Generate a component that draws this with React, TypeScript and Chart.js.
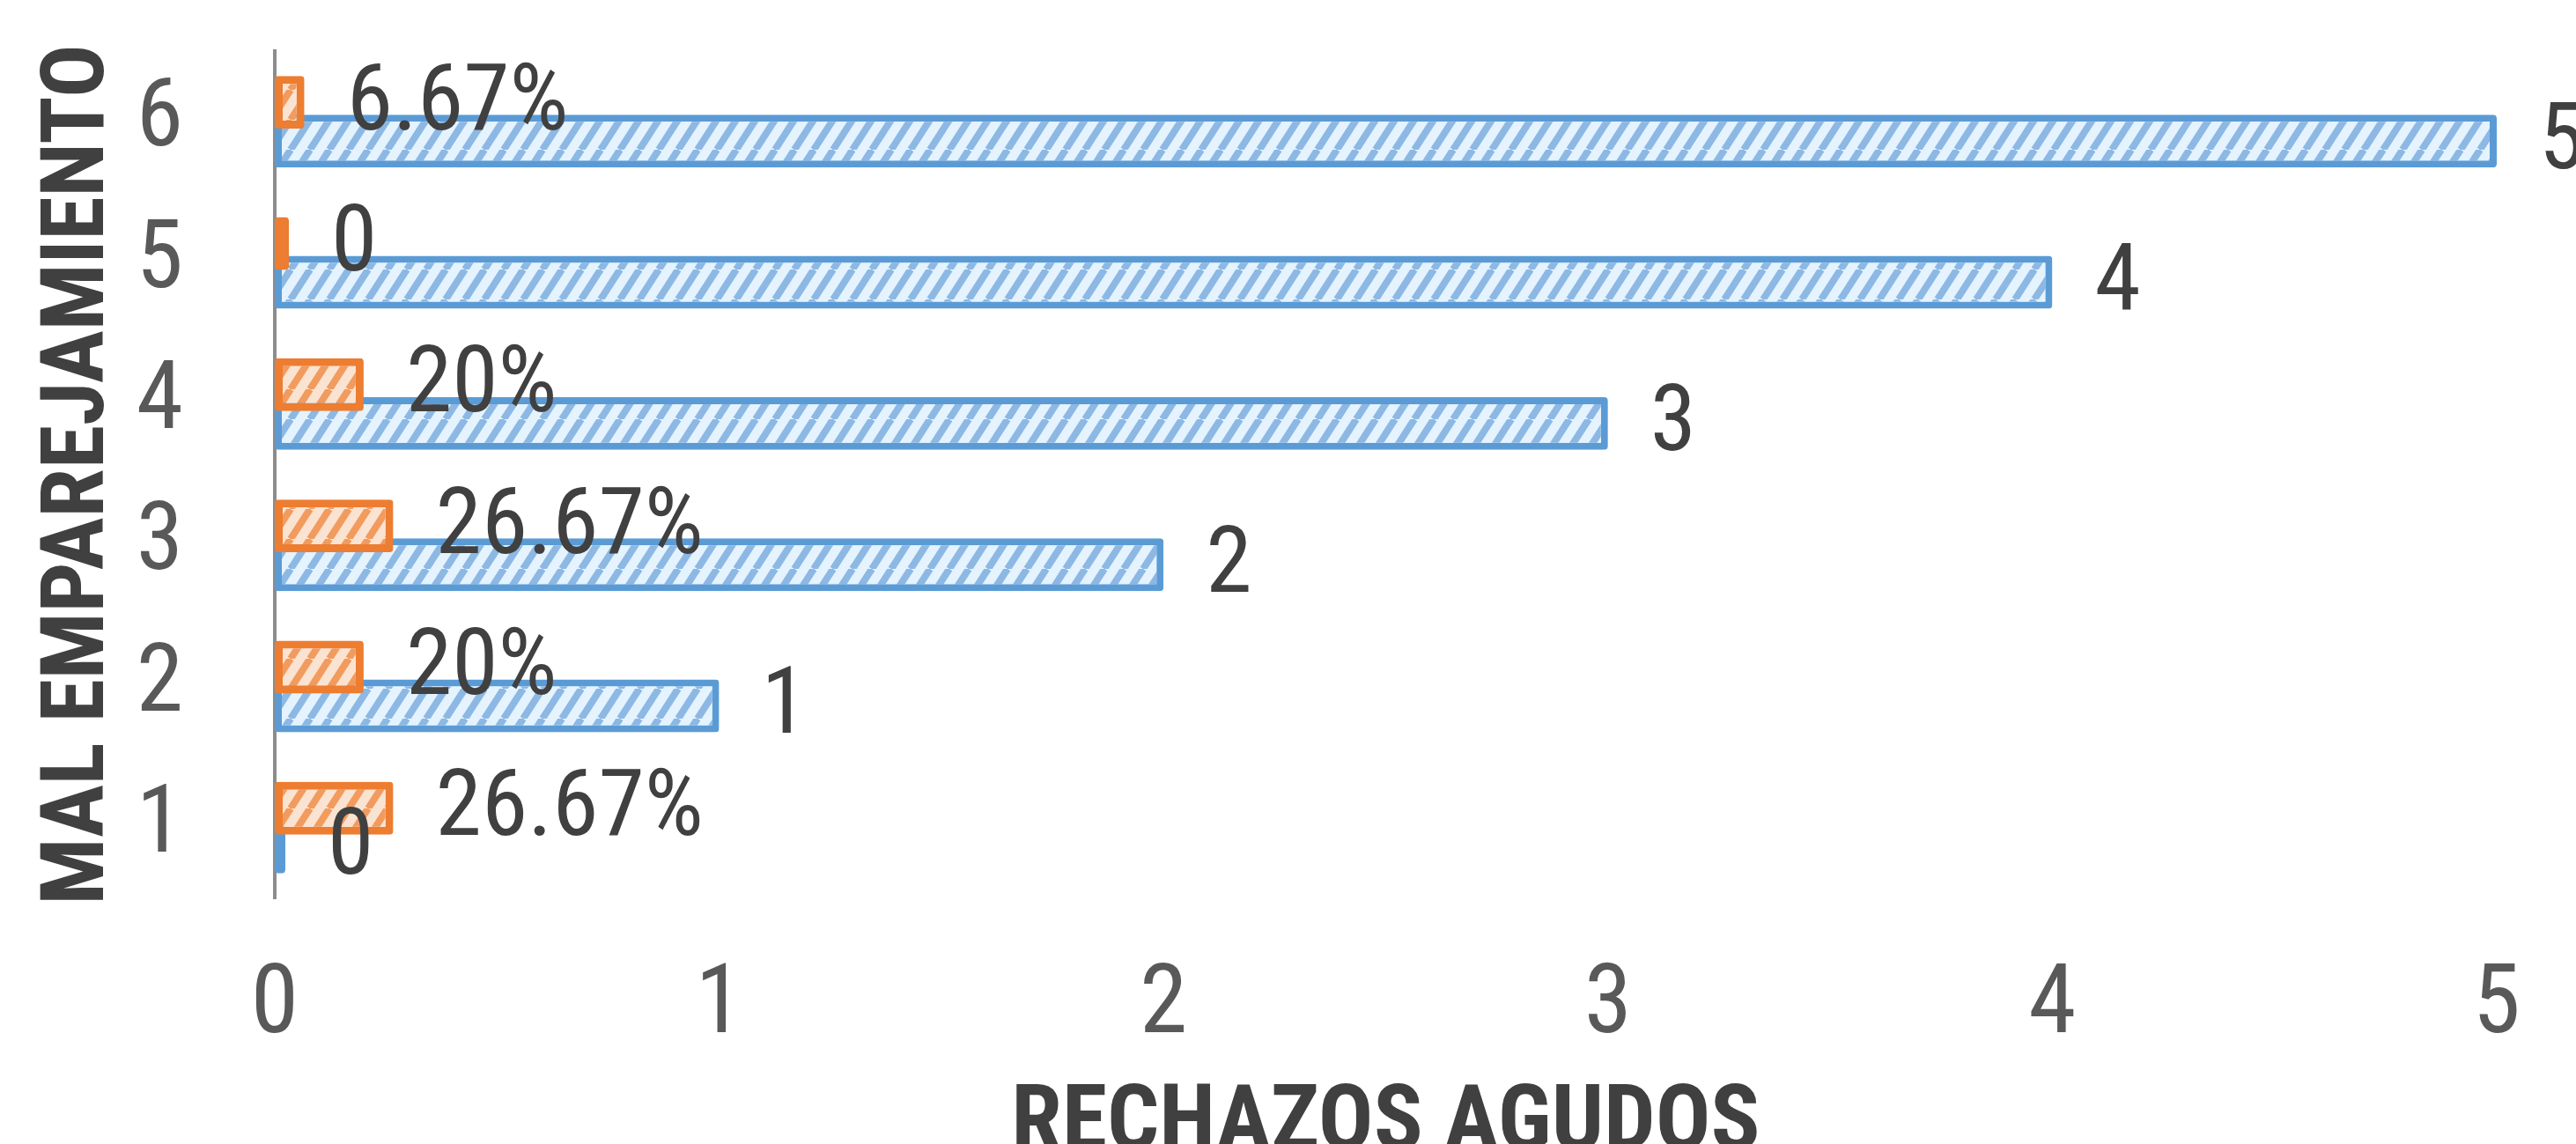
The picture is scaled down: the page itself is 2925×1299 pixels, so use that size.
import React, { useEffect, useRef } from 'react';
import { Chart, registerables } from 'chart.js';

Chart.register(...registerables);

const categories = ['1', '2', '3', '4', '5', '6'];
const rechazos = [0, 1, 2, 3, 4, 5];
const rechazoLabels = ['0', '1', '2', '3', '4', '5'];
const porcentajes = [0.2667, 0.2, 0.2667, 0.2, 0, 0.0667];
const porcentajeLabels = ['26.67%', '20%', '26.67%', '20%', '0', '6.67%'];
const xTicks = [0, 1, 2, 3, 4, 5];
const yTitle = 'MAL EMPAREJAMIENTO';
const xTitle = 'RECHAZOS AGUDOS';

const FONT = "'Roboto Condensed', 'Arial Narrow', 'Liberation Sans', Arial, sans-serif";

function hatch(bg: string, fg: string, w: number, h: number, lw: number) {
  const c = document.createElement('canvas');
  c.width = w;
  c.height = h;
  const g = c.getContext('2d')!;
  g.fillStyle = bg;
  g.fillRect(0, 0, w, h);
  g.strokeStyle = fg;
  g.lineWidth = lw;
  g.beginPath();
  for (const dx of [-w, 0, w]) {
    g.moveTo(dx, h);
    g.lineTo(dx + w, 0);
  }
  g.stroke();
  return g.createPattern(c, 'repeat')!;
}

export default function App() {
  const ref = useRef<HTMLCanvasElement>(null);

  useEffect(() => {
    document.body.style.margin = '0';
    const canvas = ref.current!;

    const order = [...categories.keys()].reverse();
    const labels = order.map((i) => categories[i]);
    const blueFill = hatch('#E4F3FE', '#8DB8E4', 22, 34, 8);
    const orangeFill = hatch('#FBE3D2', '#F29B5E', 22, 34, 8);

    const valueLabels = {
      id: 'valueLabels',
      afterDatasetsDraw(chart: any) {
        const ctx = chart.ctx;
        ctx.save();
        ctx.font = `106px ${FONT}`;
        ctx.fillStyle = '#404040';
        ctx.textAlign = 'left';
        ctx.textBaseline = 'middle';
        chart.data.datasets.forEach((ds: any, di: number) => {
          const meta = chart.getDatasetMeta(di);
          meta.data.forEach((el: any, i: number) => {
            ctx.fillText(ds.valueLabels[i], el.x + 48, el.y + 4);
          });
        });
        ctx.restore();
      },
    };

    const chart = new Chart(canvas, {
      type: 'bar',
      data: {
        labels,
        datasets: [
          {
            label: 'Porcentaje',
            data: order.map((i) => porcentajes[i]),
            valueLabels: order.map((i) => porcentajeLabels[i]),
            backgroundColor: orangeFill,
            borderColor: '#ED7D31',
            borderWidth: 9,
            borderRadius: 4,
            borderSkipped: false,
            minBarLength: 16,
          } as any,
          {
            label: 'Rechazos',
            data: order.map((i) => rechazos[i]),
            valueLabels: order.map((i) => rechazoLabels[i]),
            backgroundColor: blueFill,
            borderColor: '#5B9BD5',
            borderWidth: 8,
            borderRadius: 4,
            borderSkipped: false,
            minBarLength: 12,
          } as any,
        ],
      },
      options: {
        indexAxis: 'y',
        responsive: false,
        animation: false,
        devicePixelRatio: 1,
        layout: { padding: { left: 0, right: 90, top: 58, bottom: 0 } },
        datasets: { bar: { categoryPercentage: 0.55, barPercentage: 1.36 } },
        plugins: { legend: { display: false }, tooltip: { enabled: false } },
        scales: {
          x: {
            type: 'linear',
            min: 0,
            max: 5,
            afterBuildTicks: (s: any) => {
              s.ticks = xTicks.map((v) => ({ value: v }));
            },
            afterFit: (s: any) => {
              s.height = 1299 - 1020;
              s.paddingLeft = 0;
              s.paddingRight = 0;
            },
            grid: { display: false, drawTicks: false },
            border: { display: false },
            ticks: {
              color: '#595959',
              padding: 58,
              font: { family: FONT, size: 110 },
            },
            title: {
              display: true,
              text: xTitle,
              color: '#404040',
              font: { family: FONT, size: 104, weight: 'bold', lineHeight: 1 },
              padding: { top: 0, bottom: -32 },
            },
          },
          y: {
            type: 'category',
            afterFit: (s: any) => {
              s.width = 312;
              s.paddingTop = 0;
              s.paddingBottom = 0;
            },
            grid: { display: false, drawTicks: false },
            border: { display: true, color: '#8C8C8C', width: 4 },
            ticks: {
              color: '#595959',
              padding: 104,
              font: { family: FONT, size: 108 },
            },
            title: {
              display: true,
              text: yTitle,
              color: '#404040',
              font: { family: FONT, size: 100, weight: 'bold', lineHeight: 1.2 },
              padding: { top: 32, bottom: 0 },
            },
          },
        },
      },
      plugins: [valueLabels],
    });
    return () => chart.destroy();
  }, []);

  return (
    <div style={{ width: 2925, height: 1299, background: '#ffffff' }}>
      <canvas ref={ref} width={2925} height={1299} style={{ width: 2925, height: 1299, display: 'block' }} />
    </div>
  );
}
